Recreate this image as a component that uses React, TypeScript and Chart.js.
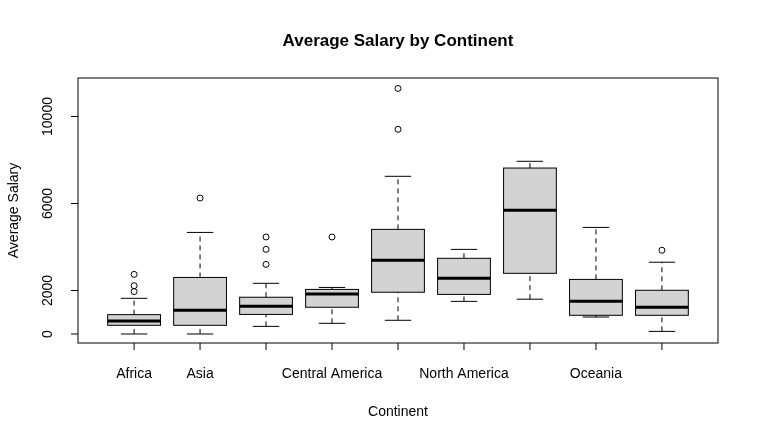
import { useEffect, useRef } from "react";
import { Chart, registerables } from "chart.js";

Chart.register(...registerables);

const continents = [
  "Africa", "Asia", "Caribbean", "Central America", "Europe",
  "North America", "Northern Europe", "Oceania", "South America",
];
const shownLabels = [true, true, false, true, false, true, false, true, false];
const whiskerLow = [0, 0, 350, 490, 630, 1500, 1600, 780, 120];
const q1 = [400, 400, 900, 1230, 1920, 1820, 2790, 860, 860];
const median = [600, 1090, 1270, 1840, 3390, 2560, 5690, 1500, 1230];
const q3 = [890, 2600, 1690, 2050, 4810, 3480, 7630, 2510, 2010];
const whiskerHigh = [1640, 4670, 2330, 2140, 7250, 3890, 7940, 4900, 3300];
const outliers: number[][] = [
  [2740, 2220, 1950],
  [6250],
  [4460, 3890, 3200],
  [4460],
  [9410, 11290],
  [],
  [],
  [],
  [3850],
];
const yTicks = [0, 2000, 6000, 10000];

const FONT = "'Liberation Sans', Arial, sans-serif";

const boxPlugin = {
  id: "rbox",
  afterDatasetsDraw(chart: any) {
    const { ctx, chartArea: a, scales } = chart;
    const x = scales.x;
    const y = scales.y;
    ctx.save();
    ctx.strokeStyle = "#000";
    ctx.fillStyle = "#000";
    continents.forEach((_, i) => {
      const cx = x.getPixelForValue(i + 1);
      const hw = x.getPixelForValue(i + 1.4) - cx;
      const cw = hw / 2;
      const py = (v: number) => y.getPixelForValue(v);
      // whiskers
      ctx.lineWidth = 1;
      ctx.setLineDash([5, 4]);
      ctx.beginPath();
      ctx.moveTo(cx, py(whiskerLow[i]));
      ctx.lineTo(cx, py(q1[i]));
      ctx.moveTo(cx, py(q3[i]));
      ctx.lineTo(cx, py(whiskerHigh[i]));
      ctx.stroke();
      ctx.setLineDash([]);
      ctx.beginPath();
      ctx.moveTo(cx - cw, py(whiskerLow[i]));
      ctx.lineTo(cx + cw, py(whiskerLow[i]));
      ctx.moveTo(cx - cw, py(whiskerHigh[i]));
      ctx.lineTo(cx + cw, py(whiskerHigh[i]));
      ctx.stroke();
      // box
      ctx.fillStyle = "#d3d3d3";
      ctx.fillRect(cx - hw, py(q3[i]), 2 * hw, py(q1[i]) - py(q3[i]));
      ctx.strokeRect(cx - hw, py(q3[i]), 2 * hw, py(q1[i]) - py(q3[i]));
      ctx.lineWidth = 3;
      ctx.beginPath();
      ctx.moveTo(cx - hw, py(median[i]));
      ctx.lineTo(cx + hw, py(median[i]));
      ctx.stroke();
    });
    // frame
    ctx.lineWidth = 1;
    ctx.strokeRect(a.left, a.top, a.right - a.left, a.bottom - a.top);
    // x axis ticks (axis line lies on the frame)
    const ax = a.bottom;
    ctx.beginPath();
    continents.forEach((_, i) => {
      const px = x.getPixelForValue(i + 1);
      ctx.moveTo(px, ax);
      ctx.lineTo(px, ax + 7);
    });
    ctx.stroke();
    ctx.fillStyle = "#000";
    ctx.font = `14px ${FONT}`;
    ctx.textAlign = "center";
    ctx.textBaseline = "middle";
    continents.forEach((c, i) => {
      if (shownLabels[i]) ctx.fillText(c, x.getPixelForValue(i + 1), a.bottom + 31);
    });
    // y axis ticks
    const yx = a.left;
    ctx.beginPath();
    yTicks.forEach((t) => {
      ctx.moveTo(yx, y.getPixelForValue(t));
      ctx.lineTo(yx - 7, y.getPixelForValue(t));
    });
    ctx.stroke();
    yTicks.forEach((t) => {
      ctx.save();
      ctx.translate(yx - 30, y.getPixelForValue(t));
      ctx.rotate(-Math.PI / 2);
      ctx.fillText(String(t), 0, 0);
      ctx.restore();
    });
    // titles
    ctx.font = `bold 17px ${FONT}`;
    ctx.fillText("Average Salary by Continent", (a.left + a.right) / 2, 41);
    ctx.font = `14px ${FONT}`;
    ctx.fillText("Continent", (a.left + a.right) / 2, 412);
    ctx.save();
    ctx.translate(14, (a.top + a.bottom) / 2);
    ctx.rotate(-Math.PI / 2);
    ctx.fillText("Average Salary", 0, 0);
    ctx.restore();
    ctx.restore();
  },
};

export default function App() {
  const canvasRef = useRef<HTMLCanvasElement>(null);
  const chartInstance = useRef<Chart | null>(null);

  useEffect(() => {
    if (!canvasRef.current) return;
    if (chartInstance.current) chartInstance.current.destroy();

    const points = outliers.flatMap((vals, i) => vals.map((v) => ({ x: i + 1, y: v })));

    chartInstance.current = new Chart(canvasRef.current, {
      type: "scatter",
      data: {
        datasets: [
          {
            data: points,
            pointRadius: 3,
            pointBorderWidth: 1,
            pointBorderColor: "#000",
            pointBackgroundColor: "rgba(0,0,0,0)",
          },
        ],
      },
      options: {
        animation: false,
        responsive: true,
        maintainAspectRatio: false,
        layout: { padding: { left: 78, right: 41, top: 78, bottom: 99 } },
        plugins: { legend: { display: false }, tooltip: { enabled: false } },
        scales: {
          x: { type: "linear", min: 0.15, max: 9.85, display: false },
          y: { type: "linear", min: -414, max: 11770, display: false },
        },
      },
      plugins: [boxPlugin],
    });

    return () => {
      if (chartInstance.current) chartInstance.current.destroy();
    };
  }, []);

  return (
    <div style={{ position: "fixed", left: 0, top: 0, width: 759, height: 442, background: "#fff" }}>
      <canvas ref={canvasRef} />
    </div>
  );
}
